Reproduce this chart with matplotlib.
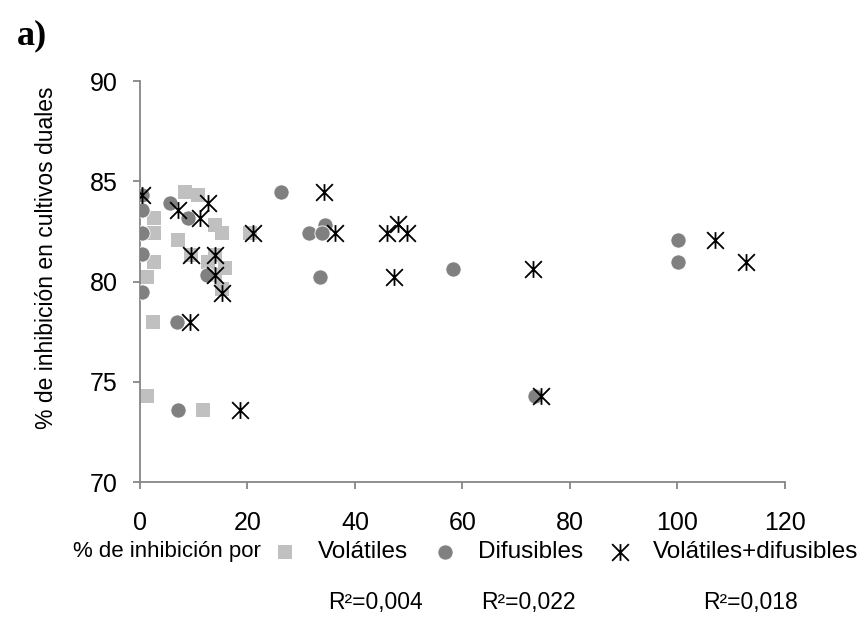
import numpy as np
import matplotlib
matplotlib.use('Agg')
import matplotlib.pyplot as plt
from matplotlib.path import Path

plt.rcParams['font.family'] = ['Liberation Sans', 'DejaVu Sans']

# % de inhibición por volátiles (x) vs. % de inhibición en cultivos duales (y)
vol_x = [1.3, 11.7, 2.4, 1.3, 2.6, 2.6, 2.6, 8.4, 10.8, 14.0, 15.3, 7.1,
         12.7, 15.8, 15.3, 14.0, 20.5, 9.5, 14.0]
vol_y = [74.3, 73.6, 78.0, 80.2, 80.95, 82.4, 83.15, 84.45, 84.3, 82.8, 82.4, 82.05,
         80.95, 80.65, 79.65, 80.3, 82.4, 81.3, 81.3]

dif_x = [0.3, 0.3, 0.3, 0.3, 0.3, 5.6, 8.9, 12.5, 6.9, 7.1, 26.2, 31.4,
         34.4, 33.8, 33.4, 58.3, 100.1, 100.1, 73.5]
dif_y = [84.3, 83.55, 82.4, 81.35, 79.5, 83.9, 83.15, 80.3, 78.0, 73.6, 84.45, 82.4,
         82.8, 82.4, 80.2, 80.6, 82.05, 80.95, 74.3]

vd_x = [0.3, 7.1, 12.7, 11.2, 9.5, 14.0, 14.0, 15.3, 9.3, 18.6, 21.0, 34.2,
        36.3, 45.9, 48.0, 49.6, 47.3, 73.1, 107.0, 112.7, 74.7]
vd_y = [84.3, 83.55, 83.9, 83.15, 81.3, 81.3, 80.3, 79.45, 78.0, 73.6, 82.4, 84.45,
        82.4, 82.4, 82.85, 82.4, 80.2, 80.6, 82.05, 80.95, 74.3]

series_labels = ['Volátiles', 'Difusibles', 'Volátiles+difusibles']
r2_labels = ['R²=0,004', 'R²=0,022', 'R²=0,018']

# X with a vertical stroke through the middle
star = Path([(-1, -1), (1, 1), (-1, 1), (1, -1), (0, -1), (0, 1)],
            [Path.MOVETO, Path.LINETO, Path.MOVETO, Path.LINETO, Path.MOVETO, Path.LINETO])

fig = plt.figure(figsize=(8.63, 6.17), dpi=100)
ax = fig.add_axes([0.1622, 0.2188, 0.7474, 0.6499])

ax.scatter(vol_x, vol_y, marker='s', s=105, color='#c0c0c0', linewidths=0,
           label=series_labels[0], zorder=2)
ax.scatter(dif_x, dif_y, marker='o', s=120, color='#808080', edgecolors='white',
           linewidths=0.6, label=series_labels[1], zorder=3)
ax.scatter(vd_x, vd_y, marker=star, s=145, color='black', linewidths=1.3,
           label=series_labels[2], zorder=4)

ax.set_xlim(0, 120)
ax.set_ylim(70, 90)
ax.set_xticks(np.arange(0, 121, 20))
ax.set_yticks(np.arange(70, 91, 5))

axis_gray = '#868686'
for side in ['top', 'right']:
    ax.spines[side].set_visible(False)
for side in ['left', 'bottom']:
    ax.spines[side].set_color(axis_gray)
    ax.spines[side].set_linewidth(1.3)
ax.tick_params(axis='both', colors=axis_gray, labelcolor='black', labelsize=18,
               length=5, width=1.3, direction='out')
ax.tick_params(axis='y', pad=11)
ax.tick_params(axis='x', pad=16)

ax.set_ylabel('% de inhibición en cultivos duales', fontsize=16.5)
ax.yaxis.set_label_coords(-0.127, 0.56)

fig.text(17 / 863, 1 - 36 / 617, 'a)', fontsize=26, fontweight='bold',
         family='Liberation Serif', va='center', ha='left')

fig.text(73 / 863, 1 - 552 / 617, '% de inhibición por', fontsize=16,
         va='center', ha='left')

fig.legend(loc='center left', bbox_to_anchor=(273 / 863, 1 - 552 / 617), ncol=3,
           frameon=False, fontsize=17.5, handletextpad=0.85, columnspacing=1.02,
           borderaxespad=0, borderpad=0, handlelength=1.0, scatterpoints=1)

r2_x = [375, 528, 750]
for xp, txt in zip(r2_x, r2_labels):
    fig.text(xp / 863, 1 - 603 / 617, txt, fontsize=16.5, va='center', ha='center')

fig.savefig('out.png', dpi=100)
